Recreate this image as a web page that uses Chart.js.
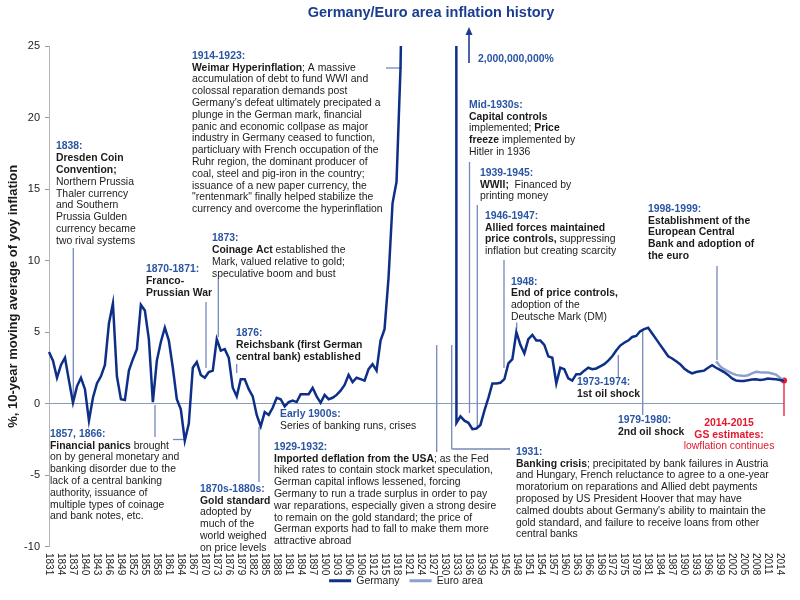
<!DOCTYPE html>
<html>
<head>
<meta charset="utf-8">
<title>Germany/Euro area inflation history</title>
<script src="https://cdn.jsdelivr.net/npm/chart.js@4.4.1/dist/chart.umd.min.js"></script>
<style>
  html, body { margin: 0; padding: 0; background: #fff; }
  canvas { display: block; }
</style>
</head>
<body>
<canvas id="inflationChart" width="800" height="600"></canvas>
<script>
var years = [
  1831, 1832, 1833, 1834, 1835, 1836, 1837, 1838, 1839, 1840,
  1841, 1842, 1843, 1844, 1845, 1846, 1847, 1848, 1849, 1850,
  1851, 1852, 1853, 1854, 1855, 1856, 1857, 1858, 1859, 1860,
  1861, 1862, 1863, 1864, 1865, 1866, 1867, 1868, 1869, 1870,
  1871, 1872, 1873, 1874, 1875, 1876, 1877, 1878, 1879, 1880,
  1881, 1882, 1883, 1884, 1885, 1886, 1887, 1888, 1889, 1890,
  1891, 1892, 1893, 1894, 1895, 1896, 1897, 1898, 1899, 1900,
  1901, 1902, 1903, 1904, 1905, 1906, 1907, 1908, 1909, 1910,
  1911, 1912, 1913, 1914, 1915, 1916, 1917, 1918, 1919, 1920,
  1921, 1922, 1923, 1924, 1925, 1926, 1927, 1928, 1929, 1930,
  1931, 1932, 1933, 1934, 1935, 1936, 1937, 1938, 1939, 1940,
  1941, 1942, 1943, 1944, 1945, 1946, 1947, 1948, 1949, 1950,
  1951, 1952, 1953, 1954, 1955, 1956, 1957, 1958, 1959, 1960,
  1961, 1962, 1963, 1964, 1965, 1966, 1967, 1968, 1969, 1970,
  1971, 1972, 1973, 1974, 1975, 1976, 1977, 1978, 1979, 1980,
  1981, 1982, 1983, 1984, 1985, 1986, 1987, 1988, 1989, 1990,
  1991, 1992, 1993, 1994, 1995, 1996, 1997, 1998, 1999, 2000,
  2001, 2002, 2003, 2004, 2005, 2006, 2007, 2008, 2009, 2010,
  2011, 2012, 2013, 2014, 2015
];

// 10-year moving average of yoy inflation, %
// 1920-1932 are far off the scale (hyperinflation, peak ~2,000,000,000%)
var germany = [
  3.6, 3.0, 1.8, 2.7, 3.2, 1.6, 0.05, 1.2, 1.8, 1.0,
  -1.2, 0.4, 1.4, 1.9, 2.7, 5.6, 7.0, 1.9, 0.3, 0.25,
  2.3, 3.1, 3.8, 6.9, 6.5, 4.5, 0.1, 3.0, 4.3, 5.3,
  4.4, 2.5, 0.3, -0.4, -2.6, -1.4, 2.5, 2.9, 2.0, 1.8,
  2.2, 2.3, 4.5, 3.7, 3.8, 3.2, 1.1, 0.5, 1.7, 1.7,
  1.0, 0.5, -0.8, -1.6, -0.6, -0.8, -0.3, 0.4, 0.3, -0.2,
  0.1, 0.2, 0.1, 0.65, 0.65, 0.65, 1.1, 0.5, 0.05, 0.6,
  0.3, 0.4, 0.6, 0.9, 1.3, 2.0, 1.5, 1.8, 1.7, 1.6,
  2.4, 2.75, 2.3, 4.4, 5.2, 8.8, 14.0, 15.5, 23.5, 40,
  90, 400, 1000, 1000, 1000, 1000, 1000, 1000, 1000, 1000,
  1000, 1000, -1.35, -0.9, -1.2, -1.35, -1.8, -1.75, -1.5, -0.5,
  0.4, 1.4, 1.4, 1.45, 1.7, 2.8, 3.1, 5.0, 4.1, 3.5,
  4.5, 4.8, 4.4, 4.4, 4.1, 3.3, 3.2, 1.4, 2.5, 2.4,
  1.75, 1.6, 2.05, 2.05, 2.3, 2.5, 2.4, 2.45, 2.6, 2.75,
  3.0, 3.3, 3.7, 4.05, 4.25, 4.4, 4.65, 4.72, 5.05, 5.2,
  5.3, 4.9, 4.5, 4.1, 3.7, 3.3, 3.15, 2.95, 2.75, 2.45,
  2.25, 2.1, 2.2, 2.25, 2.3, 2.5, 2.68, 2.5, 2.35, 2.2,
  2.0, 1.75, 1.6, 1.58, 1.58, 1.63, 1.68, 1.7, 1.65, 1.68,
  1.74, 1.72, 1.7, 1.65, 1.6
];

var euroYears = [1998, 1999, 2000, 2001, 2002, 2003, 2004, 2005, 2006, 2007, 2008, 2009, 2010, 2011, 2012, 2013, 2014, 2015];
var euroArea = [2.95, 2.6, 2.4, 2.25, 2.1, 2.0, 1.95, 1.93, 1.98, 2.1, 2.22, 2.18, 2.16, 2.16, 2.1, 2.02, 1.8, 1.62];

// GS estimates for 2014-2015 (red)
var gsYears = [2014, 2015];
var gsEstimates = [1.65, 1.6];

var xTickLabels = [
  1831, 1834, 1837, 1840, 1843, 1846, 1849, 1852, 1855, 1858, 1861, 1864, 1867, 1870, 1873, 1876,
  1879, 1882, 1885, 1888, 1891, 1894, 1897, 1900, 1903, 1906, 1909, 1912, 1915, 1918, 1921, 1924,
  1927, 1930, 1933, 1936, 1939, 1942, 1945, 1948, 1951, 1954, 1957, 1960, 1963, 1966, 1969, 1972,
  1975, 1978, 1981, 1984, 1987, 1990, 1993, 1996, 1999, 2002, 2005, 2008, 2011, 2014
];
var yTicks = [-10, -5, 0, 5, 10, 15, 20, 25];

function alignTo(keys, values) {
  return years.map(function(y) {
    var i = keys.indexOf(y);
    return i < 0 ? null : values[i];
  });
}

var FONT = '"Liberation Sans", Arial, sans-serif';
var BLUE = '#2a55a3';
var BLACK = '#1b1b1b';
var RED = '#e3182d';
var LEAD = '#7489bb';

// annotation blocks: b = blue bold, k = black bold, n = normal, r = red bold, rn = red normal
var notes = [
  { x: 56, y: 146.5, lines: [
    [['1838:', 'b']], [['Dresden Coin', 'k']], [['Convention;', 'k']], [['Northern Prussia', 'n']],
    [['Thaler currency', 'n']], [['and Southern', 'n']], [['Prussia Gulden', 'n']],
    [['currency became', 'n']], [['two rival systems', 'n']] ] },
  { x: 192, y: 56, lines: [
    [['1914-1923:', 'b']],
    [['Weimar Hyperinflation', 'k'], ['; A massive', 'n']],
    [['accumulation of debt to fund WWI and', 'n']],
    [['colossal reparation demands post', 'n']],
    [["Germany's defeat ultimately precipated a", 'n']],
    [['plunge in the German mark, financial', 'n']],
    [['panic and economic collpase as major', 'n']],
    [['industry in Germany ceased to function,', 'n']],
    [['particluary with French occupation of the', 'n']],
    [['Ruhr region, the dominant producer of', 'n']],
    [['coal, steel and pig-iron in the country;', 'n']],
    [['issuance of a new paper currency, the', 'n']],
    [['"rentenmark" finally helped stabilize the', 'n']],
    [['currency and overcome the hyperinflation', 'n']] ] },
  { x: 146, y: 269.3, lines: [
    [['1870-1871:', 'b']], [['Franco-', 'k']], [['Prussian War', 'k']] ] },
  { x: 212, y: 238.3, lines: [
    [['1873:', 'b']], [['Coinage Act', 'k'], [' established the', 'n']],
    [['Mark, valued relative to gold;', 'n']], [['speculative boom and bust', 'n']] ] },
  { x: 236, y: 333.3, lines: [
    [['1876:', 'b']], [['Reichsbank (first German', 'k']], [['central bank) established', 'k']] ] },
  { x: 280, y: 414.3, lines: [
    [['Early 1900s:', 'b']], [['Series of banking runs, crises', 'n']] ] },
  { x: 50, y: 434, lines: [
    [['1857, 1866:', 'b']], [['Financial panics', 'k'], [' brought', 'n']],
    [['on by general monetary and', 'n']], [['banking disorder due to the', 'n']],
    [['lack of a central banking', 'n']], [['authority, issuance of', 'n']],
    [['multiple types of coinage', 'n']], [['and bank notes, etc.', 'n']] ] },
  { x: 200, y: 489, lines: [
    [['1870s-1880s:', 'b']], [['Gold standard', 'k']], [['adopted by', 'n']],
    [['much of the', 'n']], [['world weighed', 'n']], [['on price levels', 'n']] ] },
  { x: 274, y: 447, lines: [
    [['1929-1932:', 'b']],
    [['Imported deflation from the USA', 'k'], ['; as the Fed', 'n']],
    [['hiked rates to contain stock market speculation,', 'n']],
    [['German capital inflows lessened, forcing', 'n']],
    [['Germany to run a trade surplus in order to pay', 'n']],
    [['war reparations, especially given a strong desire', 'n']],
    [['to remain on the gold standard; the price of', 'n']],
    [['German exports had to fall to make them more', 'n']],
    [['attractive abroad', 'n']] ] },
  { x: 516, y: 452, lines: [
    [['1931:', 'b']],
    [['Banking crisis', 'k'], ['; precipitated by bank failures in Austria', 'n']],
    [['and Hungary, French reluctance to agree to a one-year', 'n']],
    [['moratorium on reparations and Allied debt payments', 'n']],
    [['proposed by US President Hoover that may have', 'n']],
    [["calmed doubts about Germany's ability to maintain the", 'n']],
    [['gold standard, and failure to receive loans from other', 'n']],
    [['central banks', 'n']] ] },
  { x: 469, y: 105, lines: [
    [['Mid-1930s:', 'b']], [['Capital controls', 'k']],
    [['implemented; ', 'n'], ['Price', 'k']],
    [['freeze', 'k'], [' implemented by', 'n']], [['Hitler in 1936', 'n']] ] },
  { x: 480, y: 173, lines: [
    [['1939-1945:', 'b']], [['WWII;', 'k'], ['  Financed by', 'n']], [['printing money', 'n']] ] },
  { x: 485, y: 216, lines: [
    [['1946-1947:', 'b']], [['Allied forces maintained', 'k']],
    [['price controls,', 'k'], [' suppressing', 'n']], [['inflation but creating scarcity', 'n']] ] },
  { x: 511, y: 281.7, lines: [
    [['1948:', 'b']], [['End of price controls,', 'k']], [['adoption of the', 'n']], [['Deutsche Mark (DM)', 'n']] ] },
  { x: 577, y: 382.5, lines: [
    [['1973-1974:', 'b']], [['1st oil shock', 'k']] ] },
  { x: 618, y: 420, lines: [
    [['1979-1980:', 'b']], [['2nd oil shock', 'k']] ] },
  { x: 648, y: 209, lines: [
    [['1998-1999:', 'b']], [['Establishment of the', 'k']], [['European Central', 'k']],
    [['Bank and adoption of', 'k']], [['the euro', 'k']] ] },
  { x: 729, y: 423, center: true, lines: [
    [['2014-2015', 'r']], [['GS estimates:', 'r']], [['lowflation continues', 'rn']] ] },
  { x: 478, y: 59, lines: [
    [['2,000,000,000%', 'b']] ] }
];

// leader lines [x1, y1, x2, y2]
var leaders = [
  [73.3, 248, 73.3, 401],
  [155, 405, 155, 437],
  [173, 439.5, 186, 439.5],
  [206, 302, 206, 368],
  [218.3, 278, 218.3, 337],
  [236.7, 364, 236.7, 373],
  [259, 427, 259, 482],
  [386, 68, 402, 68],
  [436.7, 345, 436.7, 452],
  [451.7, 345, 451.7, 449],
  [451.7, 449, 510, 449],
  [469.5, 162, 469.5, 413],
  [477.3, 205, 477.3, 427],
  [504, 260, 504, 368],
  [516.7, 322.5, 516.7, 329],
  [618.3, 355, 618.3, 377],
  [642.7, 330, 642.7, 415],
  [717, 266, 717, 360]
];

var styleFont = {
  b: 'bold 10.4px ' + FONT, k: 'bold 10.4px ' + FONT, r: 'bold 10.4px ' + FONT,
  n: '10.4px ' + FONT, rn: '10.4px ' + FONT
};
var styleColor = { b: BLUE, k: BLACK, r: RED, n: BLACK, rn: RED };

function lineWidth(ctx, line) {
  var w = 0;
  line.forEach(function(seg) {
    ctx.font = styleFont[seg[1]];
    w += ctx.measureText(seg[0]).width;
  });
  return w;
}

var notesPlugin = {
  id: 'notes',
  afterLayout: function(chart) {
    // centre the legend under the plot rather than the whole canvas
    chart.legend.left += 14;
    chart.legend.right += 14;
  },
  beforeDatasetsDraw: function(chart) {
    var ctx = chart.ctx;
    ctx.save();
    ctx.strokeStyle = LEAD;
    ctx.lineWidth = 1.3;
    leaders.forEach(function(l) {
      ctx.beginPath();
      ctx.moveTo(l[0], l[1]);
      ctx.lineTo(l[2], l[3]);
      ctx.stroke();
    });
    ctx.strokeStyle = RED;
    ctx.beginPath();
    ctx.moveTo(784, 381);
    ctx.lineTo(784, 416);
    ctx.stroke();
    ctx.restore();
  },
  afterDraw: function(chart) {
    var ctx = chart.ctx;
    ctx.save();

    // title
    ctx.font = 'bold 14.5px ' + FONT;
    ctx.fillStyle = '#1c3d8f';
    ctx.textAlign = 'center';
    ctx.textBaseline = 'middle';
    ctx.fillText('Germany/Euro area inflation history', 431, 13);

    // annotations
    ctx.textAlign = 'left';
    notes.forEach(function(n) {
      n.lines.forEach(function(line, li) {
        var x = n.center ? n.x - lineWidth(ctx, line) / 2 : n.x;
        var y = n.y + li * 11.8;
        line.forEach(function(seg) {
          ctx.font = styleFont[seg[1]];
          ctx.fillStyle = styleColor[seg[1]];
          ctx.fillText(seg[0], x, y);
          x += ctx.measureText(seg[0]).width;
        });
      });
    });

    // arrow for the off-scale hyperinflation peak
    ctx.strokeStyle = '#1c3d8f';
    ctx.fillStyle = '#1c3d8f';
    ctx.lineWidth = 1.6;
    ctx.beginPath();
    ctx.moveTo(469, 63);
    ctx.lineTo(469, 33);
    ctx.stroke();
    ctx.beginPath();
    ctx.moveTo(469, 27);
    ctx.lineTo(465.5, 35);
    ctx.lineTo(472.5, 35);
    ctx.closePath();
    ctx.fill();

    // x tick labels, rotated to read downwards
    var xs = chart.scales.x;
    ctx.font = '10px ' + FONT;
    ctx.fillStyle = '#222';
    ctx.textBaseline = 'middle';
    ctx.textAlign = 'left';
    xs.ticks.forEach(function(t, i) {
      if (xTickLabels.indexOf(years[i]) < 0) return;
      var px = xs.getPixelForTick(i);
      ctx.save();
      ctx.translate(px, 553);
      ctx.rotate(Math.PI / 2);
      ctx.fillText(String(years[i]), 0, 0);
      ctx.restore();
    });

    ctx.restore();
  }
};

var lastIndex = years.length - 1;

new Chart(document.getElementById('inflationChart'), {
  type: 'line',
  data: {
    labels: years,
    datasets: [{
        label: 'Germany',
        data: germany,
        borderColor: '#0d2f87',
        backgroundColor: '#0d2f87',
        borderWidth: 2.5,
        pointRadius: 0,
        tension: 0
      }, {
        label: 'Euro area',
        data: alignTo(euroYears, euroArea),
        borderColor: '#8d9fcc',
        backgroundColor: '#8d9fcc',
        borderWidth: 2.5,
        pointRadius: 0,
        tension: 0
      }, {
        label: 'GS estimates',
        data: alignTo(gsYears, gsEstimates),
        borderColor: RED,
        backgroundColor: RED,
        borderWidth: 2.5,
        pointRadius: function(c) { return c.dataIndex === lastIndex ? 3 : 0; },
        pointBorderWidth: 0,
        tension: 0
      }
    ]
  },
  options: {
    responsive: false,
    animation: false,
    layout: { padding: { top: 46, right: 16, bottom: 4, left: 0 } },
    plugins: {
      title: { display: false },
      tooltip: { enabled: false },
      legend: {
        position: 'bottom',
        labels: {
          boxWidth: 22,
          boxHeight: 3,
          padding: 10,
          color: '#222',
          font: { family: FONT, size: 10.5 },
          filter: function(item) { return item.text !== 'GS estimates'; },
          generateLabels: function(chart) {
            var items = Chart.defaults.plugins.legend.labels.generateLabels(chart);
            items.forEach(function(it) { it.lineWidth = 0; });
            return items;
          }
        }
      }
    },
    scales: {
      x: {
        type: 'category',
        offset: false,
        grid: { display: false, drawTicks: false },
        border: { display: false },
        ticks: { display: false, autoSkip: false },
        afterFit: function(s) { s.height = 19; }
      },
      y: {
        min: -10,
        max: 25,
        afterBuildTicks: function(s) { s.ticks = yTicks.map(function(v) { return { value: v }; }); },
        ticks: { color: '#222', padding: 5, font: { family: FONT, size: 11 } },
        grid: {
          drawOnChartArea: true,
          tickLength: 4,
          tickColor: '#9a9a9a',
          color: function(c) { return c.tick && c.tick.value === 0 ? '#8e9bb8' : 'rgba(0,0,0,0)'; }
        },
        border: { display: true, color: '#b5b5b5' },
        title: {
          display: true,
          text: '%, 10-year moving average of yoy inflation',
          color: '#1b1b1b',
          font: { family: FONT, size: 13, weight: 'bold' },
          padding: { top: 6, bottom: 0 }
        },
        afterFit: function(s) { s.width = 49; }
      }
    }
  },
  plugins: [notesPlugin]
});
</script>
</body>
</html>
